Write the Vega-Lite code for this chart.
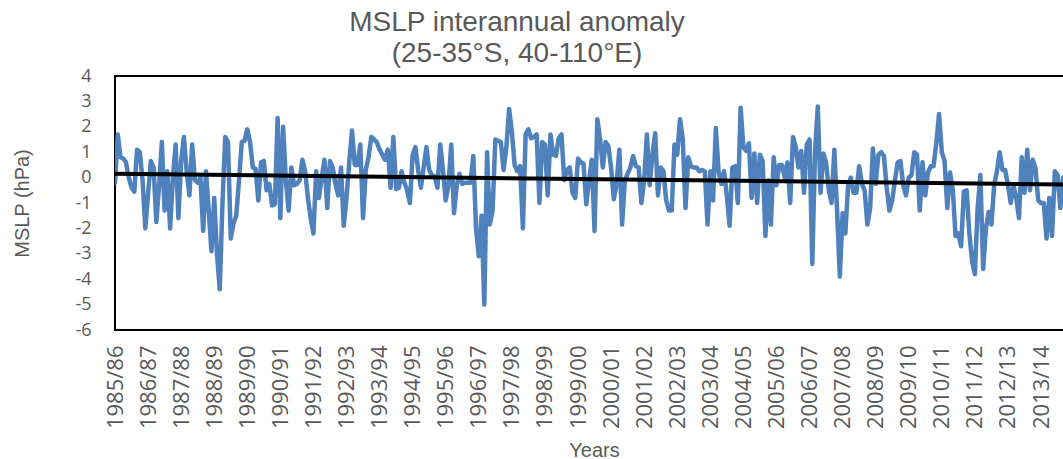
{
  "$schema": "https://vega.github.io/schema/vega-lite/v6.json",
  "autosize": "none",
  "padding": {"left": 115, "top": 76, "right": 0, "bottom": 129},
  "width": 950,
  "height": 254,
  "background": "white",
  "config": {
    "view": {"stroke": "#000000", "strokeWidth": 2},
    "axis": {"grid": false, "ticks": false, "domain": false, "labelColor": "#595959", "titleColor": "#595959", "titleFontWeight": "normal", "titleFont": "Liberation Sans", "labelFont": "Open Sans", "labelOverlap": false}
  },
  "title": {
    "text": ["MSLP interannual anomaly", "(25-35°S, 40-110°E)"],
    "font": "Liberation Sans",
    "fontSize": 28,
    "fontWeight": "normal",
    "color": "#595959",
    "anchor": "middle",
    "dx": -73,
    "dy": 7,
    "lineHeight": 31,
    "offset": 6
  },
  "datasets": {
    "series": [
      {"t":0,"v":-0.2},{"t":1,"v":1.7},{"t":2,"v":0.8},{"t":3,"v":0.75},{"t":4,"v":0.6},{"t":5,"v":0.0},{"t":6,"v":-0.4},{"t":7,"v":-0.55},{"t":8,"v":1.1},{"t":9,"v":1.0},
      {"t":10,"v":-0.1},{"t":11,"v":-2.0},{"t":12,"v":-0.65},{"t":13,"v":0.65},{"t":14,"v":0.4},{"t":15,"v":-1.75},{"t":16,"v":-0.3},{"t":17,"v":1.4},{"t":18,"v":-1.3},{"t":19,"v":0.25},
      {"t":20,"v":-2.0},{"t":21,"v":0.0},{"t":22,"v":1.3},{"t":23,"v":-1.6},{"t":24,"v":0.65},{"t":25,"v":1.6},{"t":26,"v":0.25},{"t":27,"v":-0.7},{"t":28,"v":1.3},{"t":29,"v":-0.1},
      {"t":30,"v":-0.2},{"t":31,"v":0.0},{"t":32,"v":-2.1},{"t":33,"v":0.25},{"t":34,"v":-1.3},{"t":35,"v":-2.9},{"t":36,"v":-0.8},{"t":37,"v":-3.0},{"t":38,"v":-4.4},{"t":39,"v":-1.0},
      {"t":40,"v":1.6},{"t":41,"v":1.4},{"t":42,"v":-2.4},{"t":43,"v":-1.8},{"t":44,"v":-1.5},{"t":45,"v":-0.1},{"t":46,"v":1.4},{"t":47,"v":1.45},{"t":48,"v":1.9},{"t":49,"v":1.4},
      {"t":50,"v":0.4},{"t":51,"v":0.35},{"t":52,"v":-0.9},{"t":53,"v":0.6},{"t":54,"v":0.65},{"t":55,"v":-0.5},{"t":56,"v":-0.25},{"t":57,"v":-1.1},{"t":58,"v":-1.05},{"t":59,"v":2.35},
      {"t":60,"v":-1.6},{"t":61,"v":2.0},{"t":62,"v":-0.1},{"t":63,"v":-1.3},{"t":64,"v":0.4},{"t":65,"v":-0.3},{"t":66,"v":-0.25},{"t":67,"v":-0.1},{"t":68,"v":0.7},{"t":69,"v":0.25},
      {"t":70,"v":-0.8},{"t":71,"v":-1.6},{"t":72,"v":-2.2},{"t":73,"v":0.25},{"t":74,"v":-0.8},{"t":75,"v":0.0},{"t":76,"v":0.7},{"t":77,"v":-1.2},{"t":78,"v":0.65},{"t":79,"v":0.4},
      {"t":80,"v":-0.25},{"t":81,"v":-0.7},{"t":82,"v":0.4},{"t":83,"v":-1.9},{"t":84,"v":-0.8},{"t":85,"v":0.6},{"t":86,"v":1.85},{"t":87,"v":0.5},{"t":88,"v":0.5},{"t":89,"v":1.3},
      {"t":90,"v":-1.6},{"t":91,"v":0.3},{"t":92,"v":0.8},{"t":93,"v":1.6},{"t":94,"v":1.5},{"t":95,"v":1.4},{"t":96,"v":1.1},{"t":97,"v":0.9},{"t":98,"v":0.7},{"t":99,"v":1.1},
      {"t":100,"v":-0.4},{"t":101,"v":1.6},{"t":102,"v":-0.45},{"t":103,"v":-0.4},{"t":104,"v":0.25},{"t":105,"v":-0.2},{"t":106,"v":-0.5},{"t":107,"v":-1.0},{"t":108,"v":0.9},{"t":109,"v":1.2},
      {"t":110,"v":0.3},{"t":111,"v":-0.4},{"t":112,"v":0.4},{"t":113,"v":1.2},{"t":114,"v":0.3},{"t":115,"v":0.1},{"t":116,"v":0.05},{"t":117,"v":-0.4},{"t":118,"v":1.3},{"t":119,"v":0.3},
      {"t":120,"v":-0.9},{"t":121,"v":-0.3},{"t":122,"v":1.3},{"t":123,"v":-1.4},{"t":124,"v":-0.3},{"t":125,"v":0.15},{"t":126,"v":-0.25},{"t":127,"v":-0.2},{"t":128,"v":-0.2},{"t":129,"v":-0.2},
      {"t":130,"v":0.85},{"t":131,"v":-2.0},{"t":132,"v":-3.1},{"t":133,"v":-1.5},{"t":134,"v":-5.0},{"t":135,"v":1.0},{"t":136,"v":-1.85},{"t":137,"v":-1.3},{"t":138,"v":1.5},{"t":139,"v":1.45},
      {"t":140,"v":1.4},{"t":141,"v":0.3},{"t":142,"v":1.2},{"t":143,"v":2.7},{"t":144,"v":1.8},{"t":145,"v":0.5},{"t":146,"v":0.25},{"t":147,"v":0.45},{"t":148,"v":-2.0},{"t":149,"v":1.7},
      {"t":150,"v":1.9},{"t":151,"v":1.55},{"t":152,"v":1.6},{"t":153,"v":1.7},{"t":154,"v":-1.0},{"t":155,"v":1.4},{"t":156,"v":1.3},{"t":157,"v":-0.7},{"t":158,"v":1.7},{"t":159,"v":0.9},
      {"t":160,"v":0.85},{"t":161,"v":1.55},{"t":162,"v":1.7},{"t":163,"v":-0.1},{"t":164,"v":0.3},{"t":165,"v":0.4},{"t":166,"v":-0.6},{"t":167,"v":-0.8},{"t":168,"v":0.75},{"t":169,"v":0.6},
      {"t":170,"v":0.55},{"t":171,"v":-1.05},{"t":172,"v":-0.1},{"t":173,"v":0.7},{"t":174,"v":-2.1},{"t":175,"v":2.3},{"t":176,"v":1.55},{"t":177,"v":0.4},{"t":178,"v":1.4},{"t":179,"v":1.25},
      {"t":180,"v":0.4},{"t":181,"v":-0.85},{"t":182,"v":-0.25},{"t":183,"v":1.1},{"t":184,"v":-1.85},{"t":185,"v":-0.1},{"t":186,"v":0.15},{"t":187,"v":0.4},{"t":188,"v":0.85},{"t":189,"v":0.45},
      {"t":190,"v":0.4},{"t":191,"v":-1.0},{"t":192,"v":-0.1},{"t":193,"v":1.7},{"t":194,"v":-0.3},{"t":195,"v":0.9},{"t":196,"v":1.75},{"t":197,"v":-0.7},{"t":198,"v":0.4},{"t":199,"v":0.25},
      {"t":200,"v":-0.9},{"t":201,"v":-1.3},{"t":202,"v":-1.3},{"t":203,"v":1.3},{"t":204,"v":0.9},{"t":205,"v":2.3},{"t":206,"v":1.55},{"t":207,"v":-1.2},{"t":208,"v":0.8},{"t":209,"v":0.45},
      {"t":210,"v":0.4},{"t":211,"v":0.4},{"t":212,"v":0.25},{"t":213,"v":0.3},{"t":214,"v":0.25},{"t":215,"v":-1.85},{"t":216,"v":0.25},{"t":217,"v":-0.9},{"t":218,"v":1.95},{"t":219,"v":0.25},
      {"t":220,"v":-0.25},{"t":221,"v":0.25},{"t":222,"v":-0.7},{"t":223,"v":-1.9},{"t":224,"v":0.4},{"t":225,"v":0.45},{"t":226,"v":-1.0},{"t":227,"v":2.75},{"t":228,"v":1.2},{"t":229,"v":1.05},
      {"t":230,"v":1.35},{"t":231,"v":-0.8},{"t":232,"v":0.95},{"t":233,"v":-1.0},{"t":234,"v":0.9},{"t":235,"v":0.65},{"t":236,"v":-2.3},{"t":237,"v":-0.1},{"t":238,"v":-1.85},{"t":239,"v":0.8},
      {"t":240,"v":-0.3},{"t":241,"v":0.5},{"t":242,"v":0.5},{"t":243,"v":0.0},{"t":244,"v":0.6},{"t":245,"v":-1.0},{"t":246,"v":1.6},{"t":247,"v":1.2},{"t":248,"v":0.4},{"t":249,"v":1.05},
      {"t":250,"v":-0.6},{"t":251,"v":1.3},{"t":252,"v":1.5},{"t":253,"v":-3.4},{"t":254,"v":1.0},{"t":255,"v":2.8},{"t":256,"v":-0.6},{"t":257,"v":0.95},{"t":258,"v":0.6},{"t":259,"v":-0.5},
      {"t":260,"v":-1.0},{"t":261,"v":1.1},{"t":262,"v":-1.3},{"t":263,"v":-3.9},{"t":264,"v":-1.4},{"t":265,"v":-2.2},{"t":266,"v":-0.3},{"t":267,"v":0.0},{"t":268,"v":-0.6},{"t":269,"v":-0.6},
      {"t":270,"v":0.45},{"t":271,"v":-0.25},{"t":272,"v":-0.5},{"t":273,"v":-1.85},{"t":274,"v":-1.2},{"t":275,"v":1.15},{"t":276,"v":-0.25},{"t":277,"v":0.9},{"t":278,"v":1.0},{"t":279,"v":0.85},
      {"t":280,"v":-0.4},{"t":281,"v":-1.3},{"t":282,"v":-0.9},{"t":283,"v":-0.1},{"t":284,"v":0.6},{"t":285,"v":0.65},{"t":286,"v":-0.3},{"t":287,"v":-0.7},{"t":288,"v":0.0},{"t":289,"v":0.1},
      {"t":290,"v":1.0},{"t":291,"v":0.9},{"t":292,"v":-1.3},{"t":293,"v":0.6},{"t":294,"v":-0.7},{"t":295,"v":0.2},{"t":296,"v":0.45},{"t":297,"v":0.45},{"t":298,"v":1.35},{"t":299,"v":2.5},
      {"t":300,"v":1.0},{"t":301,"v":0.65},{"t":302,"v":-1.2},{"t":303,"v":0.2},{"t":304,"v":-0.5},{"t":305,"v":-2.3},{"t":306,"v":-2.2},{"t":307,"v":-2.7},{"t":308,"v":-0.55},{"t":309,"v":-0.5},
      {"t":310,"v":-2.2},{"t":311,"v":-3.3},{"t":312,"v":-3.8},{"t":313,"v":-1.2},{"t":314,"v":0.1},{"t":315,"v":-3.6},{"t":316,"v":-2.0},{"t":317,"v":-1.35},{"t":318,"v":-1.85},{"t":319,"v":-0.3},
      {"t":320,"v":0.25},{"t":321,"v":1.0},{"t":322,"v":0.3},{"t":323,"v":0.3},{"t":324,"v":-0.3},{"t":325,"v":-1.0},{"t":326,"v":-0.3},{"t":327,"v":-0.8},{"t":328,"v":-1.6},{"t":329,"v":0.8},
      {"t":330,"v":-0.6},{"t":331,"v":1.1},{"t":332,"v":-0.5},{"t":333,"v":0.7},{"t":334,"v":0.35},{"t":335,"v":-0.9},{"t":336,"v":-1.0},{"t":337,"v":-1.0},{"t":338,"v":-2.4},{"t":339,"v":-0.8},
      {"t":340,"v":-2.3},{"t":341,"v":0.25},{"t":342,"v":0.1},{"t":343,"v":-1.2},{"t":344,"v":0.0}
    ],
    "trend": [
      {"t":0,"v":0.15},{"t":344.7,"v":-0.27}
    ]
  },
  "encoding": {
    "x": {
      "field": "t", "type": "quantitative",
      "scale": {"domain": [0, 344.7], "nice": false, "zero": false},
      "axis": {
        "values": [0,12,24,36,48,60,72,84,96,108,120,132,144,156,168,180,192,204,216,228,240,252,264,276,288,300,312,324,336],
        "labelExpr": "(1985 + datum.value/12) + '/' + slice('' + (1986 + datum.value/12), 2)",
        "labelAngle": -90,
        "labelFontSize": 22,
        "labelPadding": 15,
        "labelOverlap": false,
        "labelFlush": false,
        "labelBound": false,
        "title": "Years",
        "titleFontSize": 20,
        "titleX": 479,
        "titleY": 126,
        "titleBaseline": "alphabetic",
        "titleAlign": "center"
      }
    },
    "y": {
      "field": "v", "type": "quantitative",
      "scale": {"domain": [-6, 4], "nice": false, "zero": false},
      "axis": {
        "values": [-6,-5,-4,-3,-2,-1,0,1,2,3,4],
        "labelExpr": "toString(datum.value)",
        "labelFontSize": 18,
        "labelPadding": 24,
        "labelOverlap": false,
        "labelFlush": false,
        "title": "MSLP (hPa)",
        "titleFontSize": 20,
        "titleAngle": -90,
        "titleX": -93,
        "titleY": 127,
        "titleAlign": "center",
        "titleBaseline": "middle"
      }
    }
  },
  "layer": [
    {
      "data": {"name": "series"},
      "mark": {"type": "line", "color": "#4F81BD", "strokeWidth": 4.5, "strokeJoin": "round", "strokeCap": "round", "clip": true}
    },
    {
      "data": {"name": "trend"},
      "mark": {"type": "line", "color": "#000000", "strokeWidth": 4, "clip": true}
    }
  ]
}
